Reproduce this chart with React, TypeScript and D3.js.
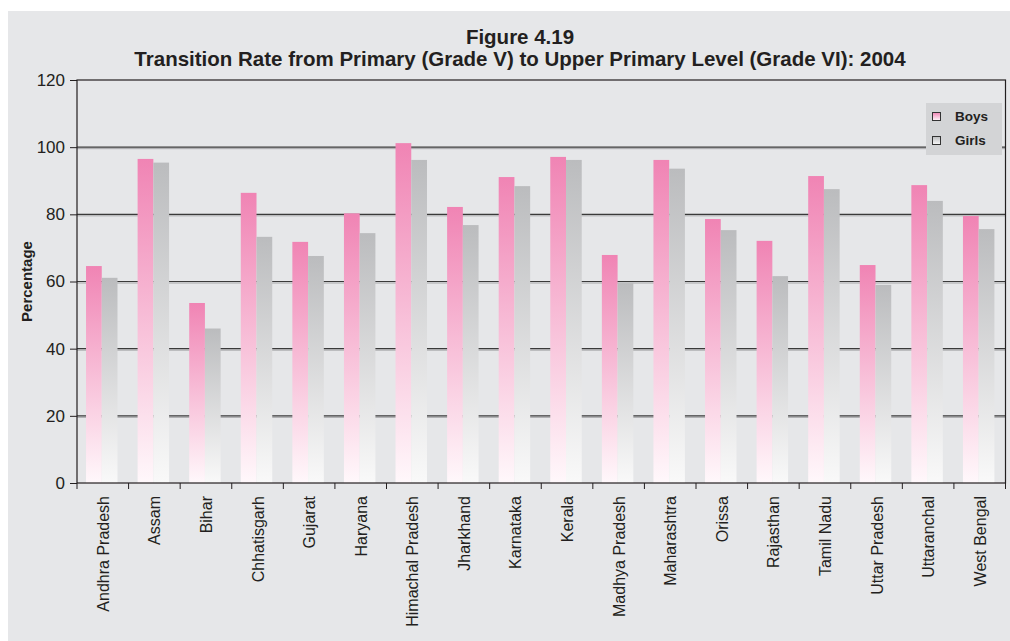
import * as d3 from 'd3';
import React, { useEffect, useRef } from 'react';

const states = [
  'Andhra Pradesh', 'Assam', 'Bihar', 'Chhatisgarh', 'Gujarat', 'Haryana',
  'Himachal Pradesh', 'Jharkhand', 'Karnataka', 'Kerala', 'Madhya Pradesh',
  'Maharashtra', 'Orissa', 'Rajasthan', 'Tamil Nadu', 'Uttar Pradesh',
  'Uttaranchal', 'West Bengal',
];
const boys = [64.6, 96.5, 53.6, 86.4, 71.8, 80.3, 101.2, 82.2, 91.1, 97.1, 67.9, 96.2, 78.6, 72.1, 91.4, 64.9, 88.7, 79.5];
const girls = [61.1, 95.4, 46.0, 73.3, 67.6, 74.4, 96.2, 76.8, 88.4, 96.2, 59.6, 93.6, 75.3, 61.6, 87.5, 59.0, 84.0, 75.6];
const seriesNames = ['Boys', 'Girls'];
const yTicks = [0, 20, 40, 60, 80, 100, 120];

const W = 1010;
const H = 641;
const margin = { top: 80, right: 4.5, bottom: 158, left: 77 };
const FONT = 'Liberation Sans, Arial, Helvetica, sans-serif';

const App = () => {
  const ref = useRef(null);

  useEffect(() => {
    const svg = d3.select(ref.current);
    svg.selectAll('*').remove();

    const plotW = W - margin.left - margin.right;
    const plotH = H - margin.top - margin.bottom;

    const defs = svg.append('defs');
    // vertical gradients for the two series
    const grads = [
      { id: 'gBoys', top: '#f084b4', bottom: '#fff8fb' },
      { id: 'gGirls', top: '#bbbcbe', bottom: '#f9f9f9' },
    ];
    grads.forEach(g => {
      const lg = defs.append('linearGradient')
        .attr('id', g.id).attr('x1', 0).attr('y1', 0).attr('x2', 0).attr('y2', 1);
      lg.append('stop').attr('offset', '0%').attr('stop-color', g.top);
      lg.append('stop').attr('offset', '100%').attr('stop-color', g.bottom);
    });

    svg.append('rect').attr('width', W).attr('height', H).attr('fill', '#ffffff');
    svg.append('rect').attr('x', 8).attr('y', 11).attr('width', W - 8).attr('height', H - 11).attr('fill', '#e6e7e9');

    // titles
    svg.append('text')
      .attr('x', 520).attr('y', 44)
      .attr('text-anchor', 'middle')
      .style('font-family', FONT).style('font-weight', 'bold').style('font-size', '20.5px')
      .attr('fill', '#231f20')
      .text('Figure 4.19');
    svg.append('text')
      .attr('x', 520).attr('y', 66)
      .attr('text-anchor', 'middle')
      .style('font-family', FONT).style('font-weight', 'bold').style('font-size', '20.5px')
      .attr('fill', '#231f20')
      .text('Transition Rate from Primary (Grade V) to Upper Primary Level (Grade VI): 2004');

    const g = svg.append('g').attr('transform', `translate(${margin.left},${margin.top})`);

    const x = d3.scaleBand().domain(states).range([0, plotW]).padding(0);
    const xs = d3.scaleBand().domain(seriesNames)
      .range([x.bandwidth() * 0.175, x.bandwidth() * 0.785]).padding(0);
    const y = d3.scaleLinear().domain([0, 120]).range([plotH, 0]);

    // gridlines with a light shadow underneath
    yTicks.filter(t => t > 0 && t < 120).forEach(t => {
      g.append('line')
        .attr('x1', 0).attr('x2', plotW)
        .attr('y1', y(t) + 1.5).attr('y2', y(t) + 1.5)
        .attr('stroke', '#a6a7a9').attr('stroke-width', 1);
      g.append('line')
        .attr('x1', 0).attr('x2', plotW)
        .attr('y1', y(t)).attr('y2', y(t))
        .attr('stroke', '#3a3a3a').attr('stroke-width', 1.2);
    });

    const fills = ['url(#gBoys)', 'url(#gGirls)'];
    [boys, girls].forEach((vals, si) => {
      g.append('g')
        .selectAll('rect')
        .data(vals)
        .join('rect')
        .attr('x', (d, i) => x(states[i]) + xs(seriesNames[si]))
        .attr('y', d => y(d))
        .attr('width', xs.bandwidth())
        .attr('height', d => plotH - y(d))
        .attr('fill', fills[si]);
    });

    // plot frame
    g.append('rect')
      .attr('x', 0).attr('y', 0).attr('width', plotW).attr('height', plotH)
      .attr('fill', 'none').attr('stroke', '#231f20').attr('stroke-width', 1.2);

    // y axis
    const yAxis = g.append('g')
      .call(d3.axisLeft(y).tickValues(yTicks).tickSize(7).tickPadding(5));
    yAxis.select('.domain').remove();
    yAxis.selectAll('line').attr('stroke', '#231f20');
    yAxis.selectAll('text')
      .style('font-family', FONT).style('font-size', '17px').attr('fill', '#231f20');

    // x axis: ticks at band boundaries
    const xAxis = g.append('g').attr('transform', `translate(0,${plotH})`);
    xAxis.selectAll('line')
      .data(d3.range(states.length + 1))
      .join('line')
      .attr('x1', i => i * x.step()).attr('x2', i => i * x.step())
      .attr('y1', 0).attr('y2', 6)
      .attr('stroke', '#231f20');
    xAxis.selectAll('text')
      .data(states)
      .join('text')
      .attr('transform', d => `translate(${x(d) + x.bandwidth() / 2 + 6},13) rotate(-90)`)
      .attr('text-anchor', 'end')
      .style('font-family', FONT).style('font-size', '16px')
      .attr('fill', '#231f20')
      .text(d => d);

    // y label
    svg.append('text')
      .attr('transform', `translate(32,${margin.top + plotH / 2}) rotate(-90)`)
      .attr('text-anchor', 'middle')
      .style('font-family', FONT).style('font-weight', 'bold').style('font-size', '15px')
      .attr('fill', '#231f20')
      .text('Percentage');

    // legend
    const lg = svg.append('g').attr('transform', 'translate(926,103)');
    lg.append('rect').attr('width', 76).attr('height', 52).attr('fill', '#d3d4d6');
    seriesNames.forEach((s, i) => {
      lg.append('rect')
        .attr('x', 6.5).attr('y', 9.5 + i * 24).attr('width', 8).attr('height', 8)
        .attr('fill', fills[i]).attr('stroke', '#333').attr('stroke-width', 1);
      lg.append('text')
        .attr('x', 29).attr('y', 18 + i * 24)
        .style('font-family', FONT).style('font-weight', 'bold').style('font-size', '13.5px')
        .attr('fill', '#231f20')
        .text(s);
    });
  }, []);

  return (
    <svg ref={ref} width={W} height={H} style={{ position: 'absolute', left: 0, top: 0 }} />
  );
};

export default App;
